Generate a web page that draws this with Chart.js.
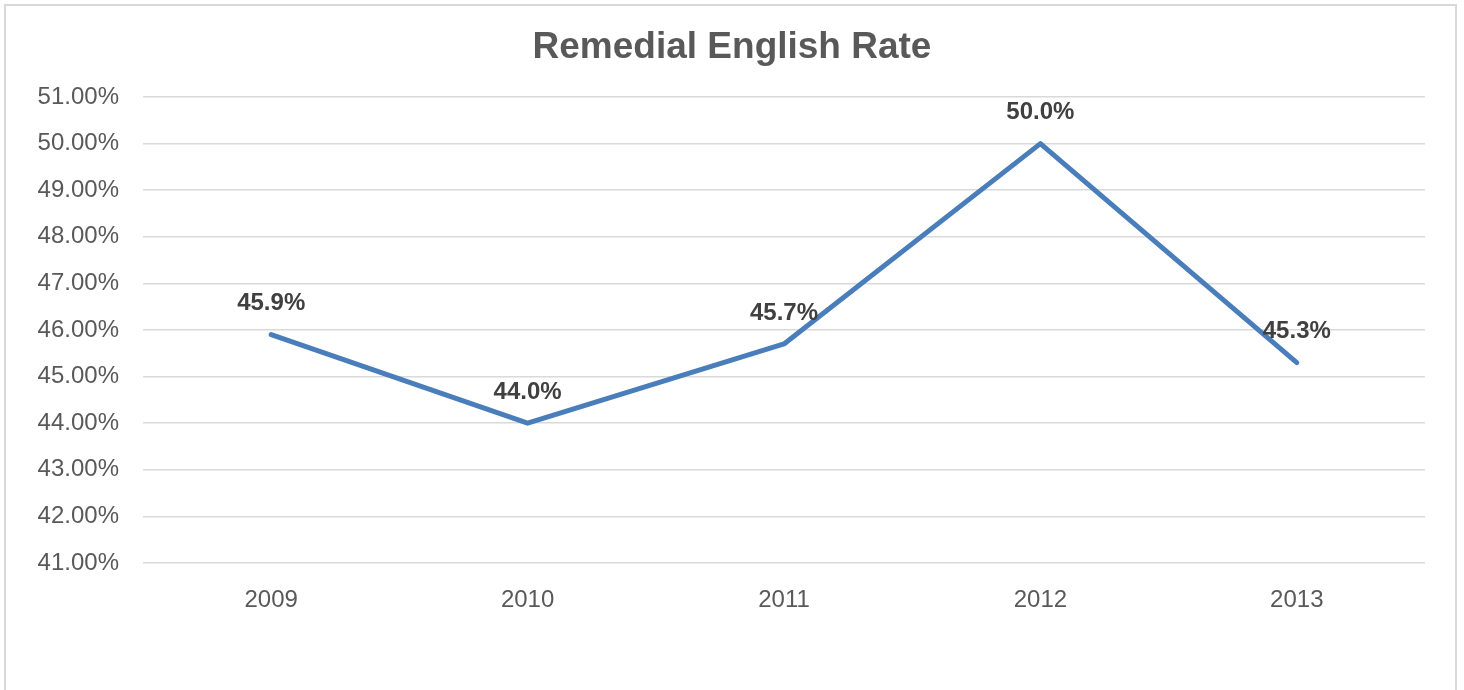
<!DOCTYPE html>
<html>
<head>
<meta charset="utf-8">
<script src="https://cdn.jsdelivr.net/npm/chart.js@4"></script>
<style>
  body { margin: 0; background: #fff; }
  #wrap { position: relative; width: 1464px; height: 690px; }
  #frame { position: absolute; left: 4px; top: 4px; width: 1453px; height: 700px;
           border: 2px solid #d9d9d9; box-sizing: border-box; pointer-events: none; }
</style>
</head>
<body>
<div id="wrap">
  <canvas id="chart" width="1464" height="690"></canvas>
  <div id="frame"></div>
</div>
<script>
const titleText = "Remedial English Rate";
const years     = ["2009", "2010", "2011", "2012", "2013"];
const rates     = [45.9, 44.0, 45.7, 50.0, 45.3];
const yMin      = 41;
const yMax      = 51;

const ctx = document.getElementById("chart");

// title + point labels drawn by hand so they sit where Excel put them
const decorations = {
    id: "decorations",
    afterDatasetsDraw(chart) {
        const c = chart.ctx;
        c.save();
        c.fillStyle = "#595959";
        c.font = "bold 37px 'Liberation Sans', Arial, sans-serif";
        c.textAlign = "center";
        c.textBaseline = "middle";
        c.fillText(titleText, chart.width / 2, 48);

        c.fillStyle = "#404040";
        c.font = "bold 24px 'Liberation Sans', Arial, sans-serif";
        const meta = chart.getDatasetMeta(0);
        meta.data.forEach((pt, i) => {
            c.fillText(`${rates[i].toFixed(1)}%`, pt.x, pt.y - 31);
        });
        c.restore();
    }
};

Chart.defaults.font.family = "'Liberation Sans', Arial, sans-serif";

new Chart(ctx, {
    type: "line",
    data: {
        labels: years,
        datasets: [{
            data: rates,
            borderColor: "#4a7ebb",
            borderWidth: 5,
            borderCapStyle: "round",
            borderJoinStyle: "round",
            pointRadius: 0,
            tension: 0
        }]
    },
    options: {
        responsive: false,
        animation: false,
        layout: { padding: { top: 97, right: 39, bottom: 75, left: 0 } },
        plugins: { legend: { display: false }, tooltip: { enabled: false } },
        scales: {
            x: {
                offset: true,
                afterFit: (axis) => { axis.height = 52; },
                grid: { display: false, drawTicks: false },
                border: { display: false },
                ticks: { color: "#595959", font: { size: 24 }, padding: 23, maxRotation: 0 }
            },
            y: {
                min: yMin,
                max: yMax,
                afterFit: (axis) => { axis.width = 143; },
                grid: { color: "#d9d9d9", lineWidth: 1.5, drawTicks: false },
                border: { display: false },
                ticks: {
                    stepSize: 1,
                    color: "#595959",
                    font: { size: 24 },
                    padding: 24,
                    callback: (val) => `${val.toFixed(2)}%`
                }
            }
        }
    },
    plugins: [decorations]
});
</script>
</body>
</html>
